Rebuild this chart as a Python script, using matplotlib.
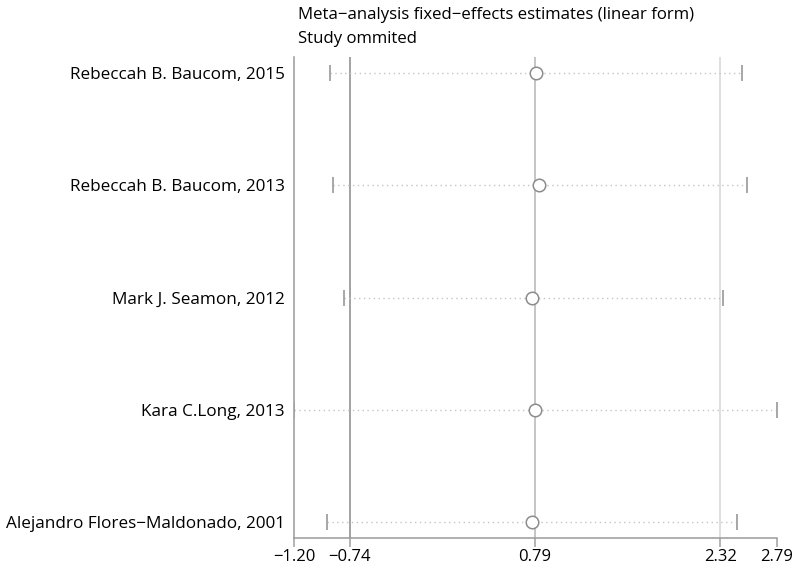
import matplotlib
matplotlib.use("Agg")
import matplotlib.pyplot as plt
import numpy as np

plt.rcParams['font.family'] = ['Open Sans', 'DejaVu Sans']

# ===============================
# Data
# ===============================

studies = [
    "Rebeccah B. Baucom, 2015",
    "Rebeccah B. Baucom, 2013",
    "Mark J. Seamon, 2012",
    "Kara C.Long, 2013",
    "Alejandro Flores\u2212Maldonado, 2001",
]
estimates = [0.80, 0.82, 0.77, 0.79, 0.77]
lower_ci = [-0.90, -0.88, -0.79, -1.20, -0.93]
upper_ci = [2.50, 2.54, 2.34, 2.79, 2.46]

tick_values = [-1.20, -0.74, 0.79, 2.32, 2.79]
ref_lines = [-0.74, 0.79, 2.32]
ref_colors = ["#8a8a8a", "#b5b5b5", "#d6d6d6"]

title_lines = ["Meta\u2212analysis fixed\u2212effects estimates (linear form)",
               "Study ommited"]

# ===============================
# Plot
# ===============================

fig = plt.figure(figsize=(8, 5.7), dpi=100)
ax = fig.add_axes([0.3675, 0.0561, 0.6038, 0.8439])

n = len(studies)
ypos = np.arange(n, 0, -1)

for x, c in zip(ref_lines, ref_colors):
    ax.axvline(x, color=c, lw=1.1, zorder=1)

for y, lo, est, hi in zip(ypos, lower_ci, estimates, upper_ci):
    ax.plot([lo, hi], [y, y], color="#c4c4c4", lw=1.0, ls=(0, (1, 2.5)), zorder=2)
    ax.plot([lo, hi], [y, y], ls="none", marker="|", markersize=12,
            markeredgewidth=1.3, color="#a0a0a0", zorder=3)
    ax.plot(est, y, ls="none", marker="o", markersize=9, markerfacecolor="white",
            markeredgecolor="#8c8c8c", markeredgewidth=1.1, zorder=4)

ax.set_xlim(tick_values[0], tick_values[-1])
ax.set_ylim(0.86, n + 0.14)

ax.set_xticks(tick_values)
ax.set_xticklabels([f"{v:.2f}".replace("-", "\u2212") for v in tick_values], fontsize=12)
ax.set_yticks(ypos)
ax.set_yticklabels(studies, fontsize=12.3)

ax.tick_params(axis="x", direction="out", length=6.5, width=1.1, color="#a0a0a0", pad=1.5)
ax.tick_params(axis="y", length=0, pad=6.5)

for side in ["top", "right"]:
    ax.spines[side].set_visible(False)
for side in ["left", "bottom"]:
    ax.spines[side].set_color("#9a9a9a")
    ax.spines[side].set_linewidth(1.1)

fig.text(0.3725, 0.973, title_lines[0], fontsize=12.1, ha="left", va="center")
fig.text(0.3725, 0.931, title_lines[1], fontsize=12.1, ha="left", va="center")

fig.savefig("out.png", dpi=100)
